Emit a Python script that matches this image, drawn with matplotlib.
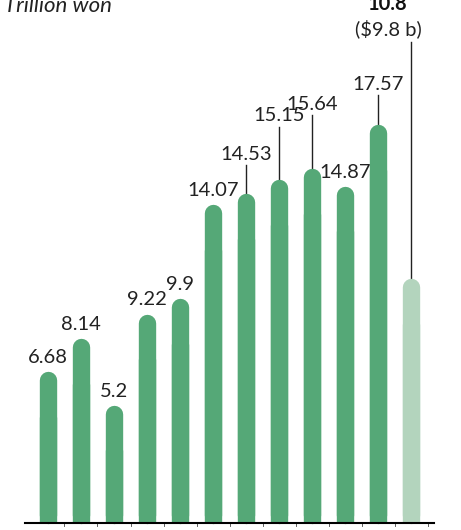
import matplotlib.pyplot as plt

values = [6.68, 8.14, 5.2, 9.22, 9.9, 14.07, 14.53, 15.15, 15.64, 14.87, 17.57, 10.8]
labels = ['6.68', '8.14', '5.2', '9.22', '9.9', '14.07', '14.53', '15.15', '15.64', '14.87', '17.57']
# label heights for the ones that sit up on a leader line
label_y = {6: 15.9, 7: 17.6, 8: 18.1, 10: 19.0}

GREEN = '#55a877'
LIGHT = '#b3d4bd'

fig = plt.figure(figsize=(4.61, 5.30), dpi=100)
ax = fig.add_axes([0, 0, 1, 1])
ax.set_xlim(-1.4545, 12.515)
ax.set_ylim(-0.31, 23.09)
ax.axis('off')

r = 0.37  # cap radius in data units
for i, v in enumerate(values):
    col = GREEN if i < 11 else LIGHT
    ax.plot([i, i], [r, v - r], color=col, lw=12.5, solid_capstyle='round', zorder=2)
    ax.plot([i, i], [0, v - 2], color=col, lw=12.5, solid_capstyle='butt', zorder=2)

font = dict(family='Lato', fontsize=14.5, color='#222222')
for i, lab in enumerate(labels):
    if i in label_y:
        y = label_y[i]
        ax.plot([i, i], [values[i], y - 0.1], color='#222222', lw=1, zorder=1)
        ax.text(i, y, lab, ha='center', va='bottom', **font)
    else:
        ax.text(i, values[i] + 0.25, lab, ha='center', va='bottom', **font)

# 2019 first half
ax.plot([11.0, 11.0], [values[11], 21.25], color='#222222', lw=1, zorder=1)
ax.text(10.3, 21.4, '($9.8 b)', ha='center', va='bottom', **font)
ax.text(10.3, 22.45, '10.8', ha='center', va='bottom', fontweight='bold',
        family='Lato', fontsize=14.5, color='#111111')

ax.text(-1.33, 22.4, 'Trillion won', ha='left', va='bottom', style='italic',
        family='Lato', fontsize=16, color='#222222')

ax.plot([-0.7, 11.7], [0, 0], color='black', lw=1.5, zorder=3)
for i in range(12):
    ax.plot([i + 0.5, i + 0.5], [0, -0.15], color='#444444', lw=0.6)

fig.savefig('out.png', dpi=100)
